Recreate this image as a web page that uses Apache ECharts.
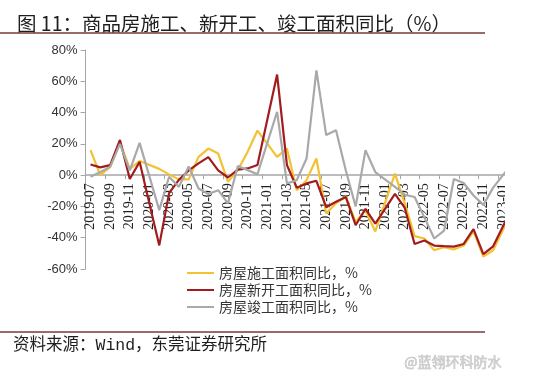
<!DOCTYPE html>
<html><head><meta charset="utf-8">
<script src="https://cdn.jsdelivr.net/npm/echarts@6/dist/echarts.min.js"></script>
<style>html,body{margin:0;padding:0;background:#fff}#c{width:542px;height:381px}</style>
</head><body><div id="c"></div>
<script>
const categories = ['2019-07','2019-08','2019-09','2019-10','2019-11','2019-12',
  '2020-01','2020-02','2020-03','2020-04','2020-05','2020-06','2020-07','2020-08','2020-09','2020-10','2020-11','2020-12',
  '2021-01','2021-02','2021-03','2021-04','2021-05','2021-06','2021-07','2021-08','2021-09','2021-10','2021-11','2021-12',
  '2022-01','2022-02','2022-03','2022-04','2022-05','2022-06','2022-07','2022-08','2022-09','2022-10','2022-11','2022-12',
  '2023-01','2023-02'];
const underConstruction = [16, 0, 5.3, 21, 4, 9, null, 4, 0.5, -2.7, -2.7, 11.7, 17, 13.8, -4.3, 3.2, 15, 28.5,
  null, 11.7, 17, -9.6, -3.2, 10.6, -24.5, -18, -13.8, -30, -22.5, -36,
  null, 1, -18, -39, -40.5, -48, -46, -47.5, -45, -36, -52, -48, null, -22];
const newStarts = [6.8, 5, 6.4, 22.5, -2.5, 8.5, null, -44.9, -11.5, -3, 3, 7.5, 11.5, 3, -1.5, 3.5, 4.3, 6.5,
  null, 64.3, 6.5, -8, -5.3, -3.6, -20.5, -17, -14, -32, -21.5, -31,
  null, -12, -21, -44, -41.8, -45, -45.4, -45.7, -44, -34.5, -50.5, -45.5, null, -20];
const completions = [-1, 2, 5.3, 20, 3, 20.6, null, -22.4, -1, -7.5, 5.5, -8.5, -12, -9.6, -18, 5.8, 3.2, 0.6,
  null, 40.5, -5.3, -3.2, 10.6, 67, 25.6, 28.7, 3, -20, 16, 2,
  null, -7.5, -12.5, -14, -27, -40.5, -35.5, -2.5, -5, -13, -19, -8, null, 8];
const seriesNames = ['房屋施工面积同比，%', '房屋新开工面积同比，%', '房屋竣工面积同比，%'];
const yMin = -60, yMax = 80, yStep = 20;

const gridTop = 50, gridBottom = 112, chartH = 381;
const plotH = chartH - gridTop - gridBottom;
const zeroOffset = -plotH * (0 - yMin) / (yMax - yMin);

const chart = echarts.init(document.getElementById('c'), null, {renderer: 'canvas'});
const mk = (name, data, color) => ({
  name, type: 'line', data, connectNulls: true, symbol: 'none', smooth: false,
  lineStyle: {color, width: 2.2}, itemStyle: {color}
});
chart.setOption({
  animation: false,
  backgroundColor: '#fff',
  title: {
    text: '图 11：商品房施工、新开工、竣工面积同比（%）',
    left: 12, top: 9,
    textStyle: {fontFamily: 'Noto Sans CJK SC', fontSize: 19.5, fontWeight: 'normal', color: '#1e1e1e'}
  },
  grid: {left: 85.6, right: 24.3, top: gridTop, bottom: gridBottom, containLabel: false},
  legend: {
    orient: 'vertical', left: 182, top: 261,
    itemWidth: 27, itemHeight: 2, itemGap: 3, icon: 'rect',
    textStyle: {fontFamily: 'Noto Sans CJK SC', fontSize: 14, color: '#333', lineHeight: 14},
    data: seriesNames
  },
  xAxis: {
    type: 'category', data: categories, boundaryGap: true, position: 'bottom',
    offset: zeroOffset,
    axisLine: {onZero: false, lineStyle: {color: '#a6a6a6', width: 1.5}},
    axisTick: {show: true, interval: 1, length: 4, lineStyle: {color: '#a6a6a6'}},
    axisLabel: {interval: 1, rotate: 90, margin: 8, fontFamily: 'Liberation Serif', fontSize: 14, color: '#222'}
  },
  yAxis: {
    type: 'value', min: yMin, max: yMax, interval: yStep,
    axisLine: {show: true, lineStyle: {color: '#a6a6a6', width: 1}},
    axisTick: {show: true, length: 5, lineStyle: {color: '#a6a6a6'}},
    splitLine: {show: false},
    axisLabel: {formatter: '{value}%', margin: 8, fontFamily: 'Liberation Sans', fontSize: 13, color: '#333'}
  },
  series: [
    mk(seriesNames[0], underConstruction, '#f3c232'),
    mk(seriesNames[1], newStarts, '#a21c1f'),
    mk(seriesNames[2], completions, '#a9a9a9')
  ],
  graphic: [
    {type: 'rect', z: 100, shape: {x: 505, y: 44, width: 40, height: 205}, style: {fill: '#fff'}},
    {type: 'line', z: 100, shape: {x1: 0, y1: 33, x2: 485, y2: 33}, style: {stroke: '#7a3b35', lineWidth: 1.5}},
    {type: 'line', z: 100, shape: {x1: 0, y1: 332, x2: 485, y2: 332}, style: {stroke: '#7a3b35', lineWidth: 1.5}},
    {type: 'text', z: 100, left: 13, top: 337, style: {text: '资料来源：Wind，东莞证券研究所', fontFamily: 'Liberation Mono, Noto Sans CJK SC', fontSize: 16.5, fill: '#1e1e1e'}},
    {type: 'text', z: 100, left: 404, top: 354, style: {text: '@蓝翎环科防水', fontFamily: 'Noto Sans CJK SC', fontSize: 14, fill: '#d0d0d0', stroke: '#b0b0b0', lineWidth: 0.5}}
  ]
});
</script></body></html>
